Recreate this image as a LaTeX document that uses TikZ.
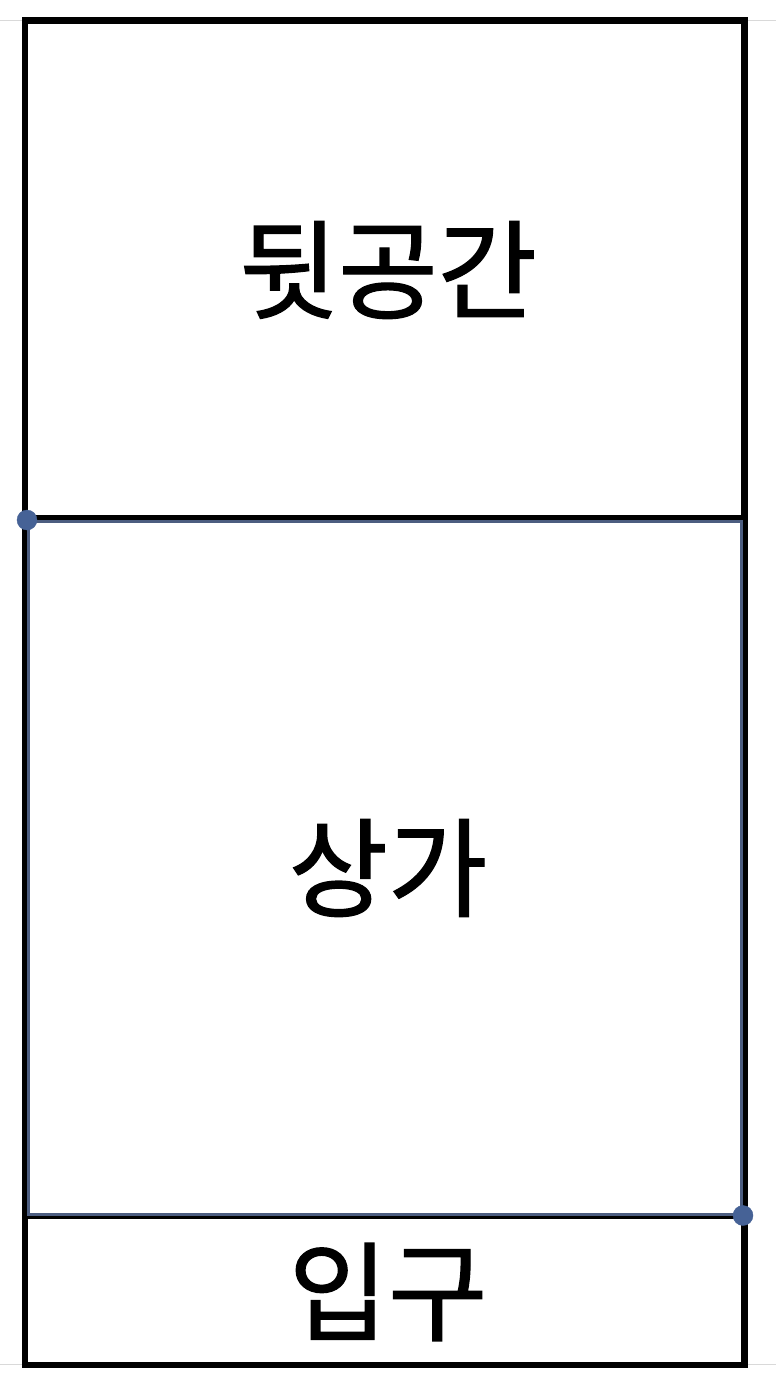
\documentclass[tikz,border=0pt]{standalone}
\usepackage{fontspec}
\newfontfamily\kor[FakeBold=1.2]{Noto Sans CJK KR}
\definecolor{selblue}{RGB}{76,93,128}
\definecolor{dotblue}{RGB}{70,98,150}
\tikzset{
  room/.style={line width=6.5pt},
  wall/.style={line width=#1},
  handle/.style={fill=dotblue,draw=dotblue},
  label/.style={font=\kor\fontsize{108}{120}\selectfont,inner sep=0pt}
}
\begin{document}
\begin{tikzpicture}[x=1pt,y=-1pt]
        \useasboundingbox (0,0) rectangle (776,1378);
        % grid lines of the sheet
        \draw[gray!30,line width=1.5pt] (0,20.5)--(776,20.5);
        \draw[gray!30,line width=1.5pt] (0,1364.5)--(776,1364.5);
        \draw[room] (25,20.5) rectangle (744.5,1365);
        \draw[wall=5.5pt] (25,518)--(744.5,518);
        \draw[wall=3.5pt] (25,1217.5)--(744.5,1217.5);
        \draw[draw=selblue,line width=3.5pt] (28.5,521.5) rectangle (741.5,1214.5);
        \filldraw[handle] (27,520)circle[radius=10];
        \filldraw[handle] (743,1215.5)circle[radius=10];
        \draw(388,270)node[label](back){뒷공간};
        \draw(388,868)node[label](shop){상가};
        \draw(388,1292)node[label](entry){입구};
      \end{tikzpicture}
\end{document}
